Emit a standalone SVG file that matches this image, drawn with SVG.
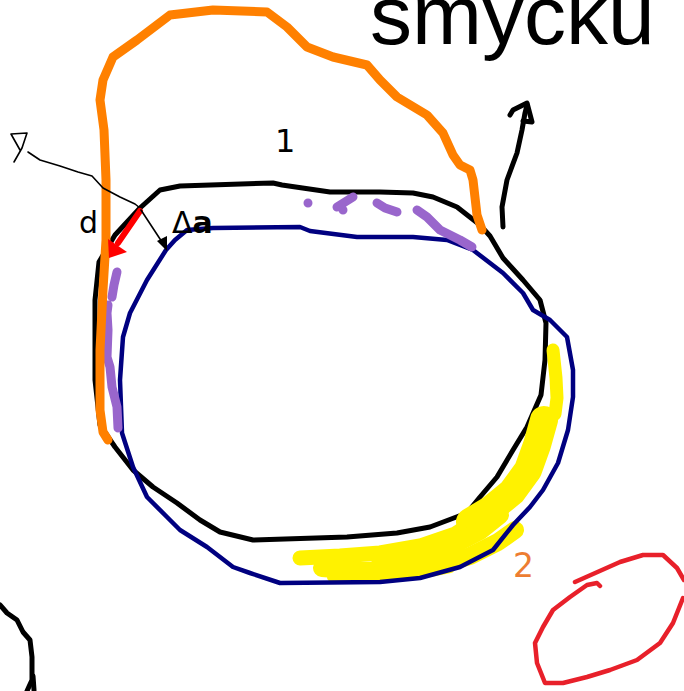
<svg xmlns="http://www.w3.org/2000/svg" width="684" height="691" viewBox="0 0 684 691">
  <style>
    .ink { fill: none; stroke-linecap: round; stroke-linejoin: round; }
    .black { stroke: #000; stroke-width: 5; }
    .thin { stroke: #000; stroke-width: 1.6; }
    .navy { stroke: #000080; stroke-width: 4.5; }
    .orange { stroke: #ff8000; stroke-width: 9; }
    .purple { stroke: #9966cc; stroke-width: 9; }
    .yellow { stroke: #fff200; }
    .red { stroke: #e8202a; stroke-width: 4.5; }
    .label { font-family: "DejaVu Sans", "Liberation Sans", sans-serif; }
  </style>

  <rect width="684" height="691" fill="#fff"/>

  <!-- title -->
  <text x="370" y="44" font-family="Liberation Sans, Arial, sans-serif" font-size="84" fill="#000">smycku</text>

  <!-- black contour -->
  <g id="loop-black">
    <path class="ink black" d="M140 208 L150 199 L160 190 L180 186 L273 183 L282 185 L330 192 L380 192 L413 193 L433 197 L457 207 L480 225 L490 236 L503 258 L523 280 L540 300 L546 323 L545 360 L541 395 L527 427 L513 450 L497 477 L480 497 L467 513 L430 527 L397 533 L347 537 L253 540 L220 532 L200 520 L177 503 L153 487 L133 470 L115 447 L100 425 L95 380 L95 300 L99 262 L115 235 Z"/>
  </g>

  <!-- highlighter band along the lower right, laid over the black contour -->
  <g id="highlight">
    <path class="ink yellow" stroke-width="13" d="M553 350 L556 378 L557 398 L555 414"/>
    <path class="ink yellow" stroke-width="28" d="M544 420 L537 445 L528 470 L512 492 L490 510 L470 522"/>
    <path class="ink yellow" stroke-width="15" d="M300 558 L340 556 L380 553 L420 546 L455 534 L485 515"/>
    <path class="ink yellow" stroke-width="18" d="M322 568 L360 571 L400 570 L440 565 L470 556 L498 542 L515 530"/>
    <path class="ink yellow" stroke-width="10" d="M332 577 L380 578 L420 574 L450 568"/>
    <path class="ink yellow" stroke-width="18" d="M380 559 L420 554 L455 544 L480 531 L500 515"/>
  </g>

  <!-- navy contour -->
  <g id="loop-navy">
    <path class="ink navy" d="M166 250 L175 240 L187 230 L213 228 L300 227 L310 231 L357 237 L413 237 L447 240 L473 250 L503 273 L523 293 L533 310 L550 320 L567 337 L573 370 L573 397 L568 430 L558 463 L543 490 L530 507 L513 525 L493 550 L460 567 L420 578 L380 582 L280 583 L250 573 L233 567 L207 547 L180 530 L167 517 L147 497 L133 467 L122 433 L120 380 L123 337 L130 313 L147 280 Z"/>
  </g>

  <!-- purple dots -->
  <g id="dots">
    <path class="ink purple" d="M308 203 L308 203 M337 207 L353 197 M343 210 L343 210 M377 203 L385 208 L397 212 M417 210 L427 217 L440 230 L460 240 L472 247"/>
    <path class="ink purple" d="M117 272 L114 285 L112 297 M108 305 L107 313 L108 330 L107 357 L110 367 L112 387 L117 407 L118 428"/>
  </g>

  <!-- orange loop -->
  <g id="loop-orange">
    <path class="ink orange" d="M108 440 L103 432 L100 410 L100 350 L103 290 L106 240 L106 180 L104 130 L100 100 L103 80 L113 57 L137 40 L170 15 L213 10 L267 12 L287 27 L307 47 L333 57 L367 65 L380 80 L397 97 L427 115 L443 133 L453 155 L460 165 L470 170 L473 180 L477 215 L482 230"/>
  </g>

  <!-- connectors and marks -->
  <g id="connectors">
    <!-- pointer stroke with sketched head -->
    <path class="ink thin" stroke-width="2.2" d="M28 152 L40 160 L60 166 L78 172 L92 176 L103 188 L120 197 L135 204 L140 208"/>
    <path class="ink thin" stroke-width="2.5" d="M14 162 L22 148 L27 133 L11 134 L20 150"/>
    <!-- red thick arrow d -->
    <path class="ink" stroke="#ff0000" stroke-width="6" stroke-linecap="butt" d="M140 211 L118 243"/>
    <polygon points="109,258 108,239 127,252" fill="#ff0000"/>
    <!-- thin arrow delta a -->
    <path class="ink thin" d="M141 210 L162 242"/>
    <polygon points="167,251 157,241 167,236" fill="#000"/>
    <!-- arrow pointing up at right -->
    <path class="ink black" stroke-width="3.5" d="M503 227 L502 207 L507 180 L517 153 L522 130 L525 113 L527 105"/>
    <path class="ink black" stroke-width="3.5" d="M510 115 L513 110 L527 103 L532 122 L523 121"/>
    <!-- stroke at lower left -->
    <path class="ink black" stroke-width="3.5" d="M0 605 L7 613 L17 620 L23 632 L30 640 L32 657 L32 680 L27 691"/>
    <path class="ink black" stroke-width="2" d="M33 676 L34 690"/>
  </g>

  <!-- red loop bottom right -->
  <g id="loop-red">
    <path class="ink red" d="M575 582 L620 562 L643 555 L663 555 L677 568 L684 580 M683 598 L673 623 L660 643 L637 660 L610 670 L587 677 L563 683 L545 683 L537 663 L535 643 L543 627 L553 610 L570 597 L587 585 L597 583 L600 586"/>
  </g>

  <!-- labels -->
  <g id="labels">
    <text class="label" x="275" y="152" font-size="32" fill="#000">1</text>
    <text class="label" x="79" y="233" font-size="30" fill="#000">d</text>
    <text class="label" x="172" y="233" font-size="30" fill="#000">Δ<tspan font-weight="bold">a</tspan></text>
    <text class="label" x="513" y="577" font-size="33" fill="#ed7d31">2</text>
  </g>
</svg>
